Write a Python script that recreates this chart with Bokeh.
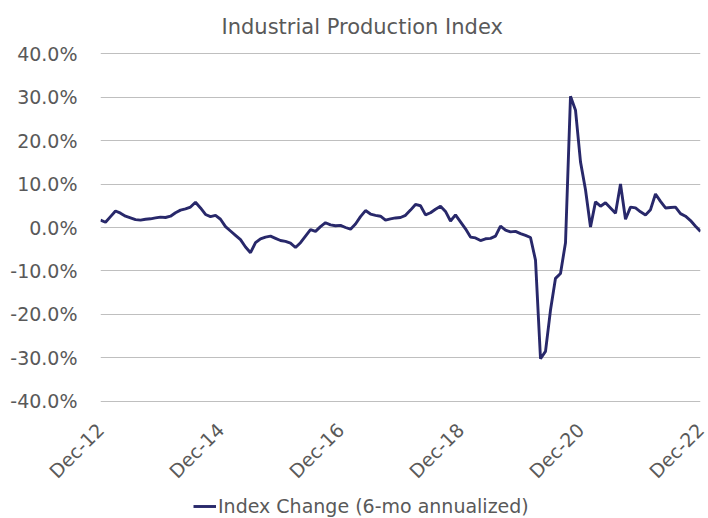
import math
from bokeh.plotting import figure
from bokeh.layouts import column
from bokeh.models import Range1d, FixedTicker, Legend, LegendItem, ColumnDataSource
from bokeh.embed import file_html
from bokeh.resources import INLINE

title_text = "Industrial Production Index"
series_name = "Index Change (6-mo annualized)"

# monthly values Dec-12 .. Dec-22 (percent)
values = [
    1.7, 1.2, 2.5, 3.8, 3.3, 2.6, 2.2, 1.8, 1.7, 1.9, 2.0, 2.2,
    2.4, 2.3, 2.6, 3.4, 4.0, 4.3, 4.7, 5.8, 4.5, 3.0, 2.5, 2.8,
    1.9, 0.2, -0.8, -1.8, -2.8, -4.5, -5.8, -3.5, -2.6, -2.2, -2.0, -2.5,
    -3.0, -3.2, -3.6, -4.6, -3.5, -2.0, -0.5, -0.9, 0.2, 1.1, 0.6, 0.4,
    0.5, 0.0, -0.4, 0.8, 2.5, 3.9, 3.1, 2.8, 2.6, 1.7, 2.0, 2.2,
    2.3, 2.8, 4.0, 5.3, 5.0, 2.9, 3.4, 4.2, 4.9, 3.7, 1.5, 2.9,
    1.3, -0.3, -2.2, -2.4, -3.0, -2.6, -2.5, -2.0, 0.3, -0.6, -1.0, -0.9,
    -1.4, -1.8, -2.3, -7.5, -30.2, -28.5, -19.0, -11.7, -10.6, -3.5, 30.2, 27.0,
    15.1, 8.7, 0.1, 5.9, 4.9, 5.7, 4.5, 3.3, 10.0, 1.9, 4.7, 4.5,
    3.6, 2.9, 4.1, 7.7, 6.0, 4.5, 4.6, 4.7, 3.2, 2.6, 1.6, 0.3,
    -0.9,
]
month_index = list(range(len(values)))

x_tick_positions = [0, 24, 48, 72, 96, 120]
x_tick_labels = ["Dec-12", "Dec-14", "Dec-16", "Dec-18", "Dec-20", "Dec-22"]
y_ticks = [-40, -30, -20, -10, 0, 10, 20, 30, 40]
y_tick_labels = ["-40.0%", "-30.0%", "-20.0%", "-10.0%", "0.0%", "10.0%", "20.0%", "30.0%", "40.0%"]

FONT = "DejaVu Sans"
GRAY = "#595959"
LINE = "#28286A"
LINE_WIDTH = 2.9

p = figure(width=708, height=492, output_backend="svg", toolbar_location=None,
           x_range=Range1d(0, 120), y_range=Range1d(-40.5, 40.5),
           min_border_left=100, min_border_right=8, min_border_top=51, min_border_bottom=83)
p.outline_line_color = None
p.background_fill_color = "white"
p.border_fill_color = "white"

p.title.text = title_text
p.title.align = "left"
p.title.offset = 121
p.title.standoff = 25
p.title.text_font = FONT
p.title.text_font_size = "21px"
p.title.text_font_style = "normal"
p.title.text_color = GRAY

p.xaxis.ticker = FixedTicker(ticks=x_tick_positions)
p.xaxis.major_label_overrides = {t: l for t, l in zip(x_tick_positions, x_tick_labels)}
p.xaxis.major_label_orientation = math.pi / 4
p.yaxis.ticker = FixedTicker(ticks=y_ticks)
p.yaxis.major_label_overrides = {t: l for t, l in zip(y_ticks, y_tick_labels)}

for ax in (p.xaxis, p.yaxis):
    ax.axis_line_color = None
    ax.major_tick_line_color = None
    ax.minor_tick_line_color = None
    ax.major_label_text_font = FONT
    ax.major_label_text_font_size = "19px"
    ax.major_label_text_color = GRAY
p.yaxis.major_label_standoff = 17
p.xaxis.major_label_standoff = 17

p.xgrid.grid_line_color = None
p.ygrid.grid_line_color = "#BFBFBF"
p.ygrid.grid_line_width = 1

src = ColumnDataSource(dict(x=month_index, y=values))
p.line("x", "y", source=src, line_color=LINE, line_width=LINE_WIDTH)

# legend strip below the chart (its frame lines up with the chart frame)
lg = figure(width=708, height=26, output_backend="svg", toolbar_location=None,
            x_range=Range1d(0, 1), y_range=Range1d(0, 1),
            x_axis_type=None, y_axis_type=None,
            min_border_left=0, min_border_right=0, min_border_top=0, min_border_bottom=0)
lg.outline_line_color = None
lg.xgrid.visible = False
lg.ygrid.visible = False
key_src = ColumnDataSource(dict(x=[0.0], y=[float("nan")]))
lr = lg.line("x", "y", source=key_src, line_color=LINE, line_width=LINE_WIDTH)
legend = Legend(items=[LegendItem(label=series_name, renderers=[lr])],
                location=(93, 1), orientation="horizontal",
                label_text_font=FONT, label_text_font_size="19px", label_text_color=GRAY,
                glyph_width=23, label_standoff=2, border_line_color=None,
                background_fill_alpha=0, padding=0, margin=0)
lg.add_layout(legend, "center")

layout = column(p, lg, spacing=0)
open("out.html", "w").write(file_html(layout, INLINE))
